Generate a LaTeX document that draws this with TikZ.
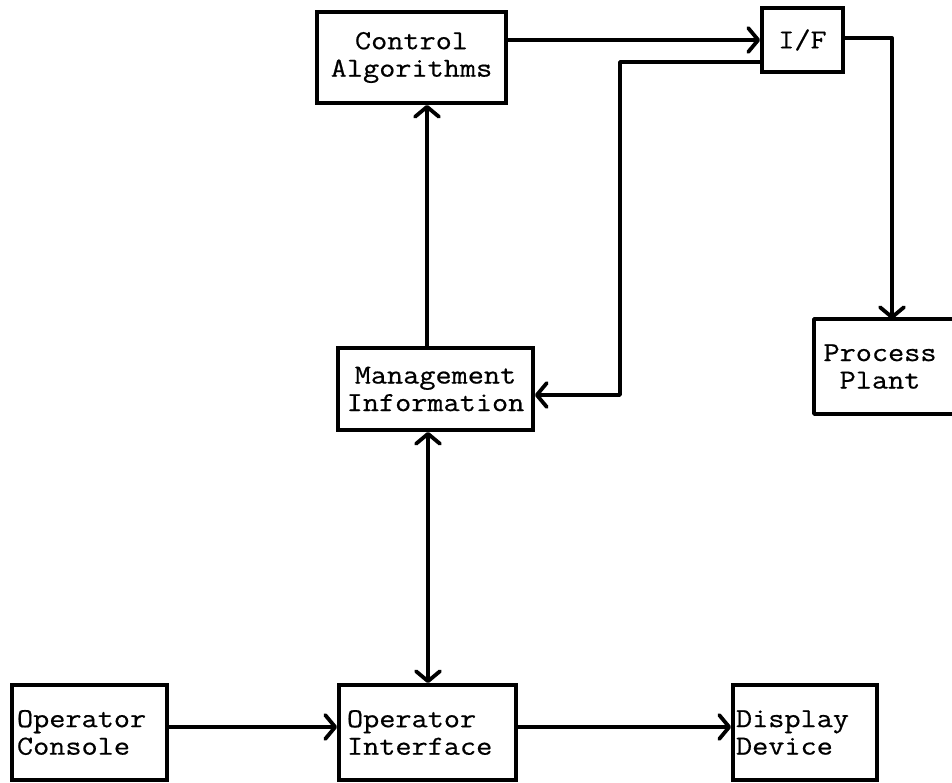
\documentclass[tikz,border=0pt]{standalone}
\usepackage{fontspec}
\setmainfont[FakeStretch=1.14,FakeBold=0.6]{Latin Modern Mono}
\usetikzlibrary{arrows.meta,calc}
\tikzset{
  blk/.style={draw=black, line width=3.8pt, inner sep=0pt, font=\fontsize{27.5}{27.5}\selectfont},
  cbox/.style={blk, align=center},
  lbox/.style={blk, align=left},
  conn/.style={line width=3.8pt, line cap=round, line join=round},
  arr/.style={conn, -{Straight Barb[length=10pt,width=24pt,round]}},
  darr/.style={conn, {Straight Barb[length=10pt,width=24pt,round]}-{Straight Barb[length=10pt,width=24pt,round]}}
}
\begin{document}
\begin{tikzpicture}[x=1pt,y=-1pt]
\useasboundingbox[fill=white] (0,0) rectangle (952,782);
\coordinate (redge) at (952,0);
% boxes
\node[cbox, minimum width=189pt, minimum height=91pt] (CA) at (411.5,57.5) {Control\\Algorithms};
\node[cbox, minimum width=81pt, minimum height=64pt] (IF) at (802.5,40) {I/F};
\node[cbox, minimum width=195pt, minimum height=82pt] (MI) at (435.5,389) {Management\\Information};
\node[cbox, draw=none, minimum width=128pt, minimum height=91pt] (PP) at (880,366.5) {Process\\Plant};
\draw[conn] (PP.north -| redge) -- (PP.north west) -- (PP.south west) -- (PP.south -| redge);
\node[lbox, text width=145pt, inner xsep=5pt, minimum height=95pt] (OC) at (89.5,732.5) {Operator\\Console};
\node[lbox, text width=161pt, inner xsep=8pt, minimum height=95pt] (OI) at (427.5,732.5) {Operator\\Interface};
\node[lbox, text width=138pt, inner xsep=3pt, minimum height=95pt] (DD) at (805,732.5) {Display\\Device};
% connectors
\draw[arr] ([yshift=17.5pt]CA.east) -- ([yshift=17.5pt]CA.east -| IF.west);
\coordinate (bend) at (620,395);
\draw[arr] ([yshift=-22pt]IF.west) -| (bend) -- (bend -| MI.east);
\draw[arr] ([yshift=2pt]IF.east) -| ([xshift=12pt]PP.north);
\draw[arr] ([xshift=-8.5pt]MI.north) -- ([xshift=-8.5pt]MI.north |- CA.south);
\draw[darr] ([xshift=-7.5pt]MI.south) -- ([xshift=-7.5pt]MI.south |- OI.north);
\draw[arr] ([yshift=5.5pt]OC.east) -- ([yshift=5.5pt]OC.east -| OI.west);
\draw[arr] ([yshift=5.5pt]OI.east) -- ([yshift=5.5pt]OI.east -| DD.west);
\end{tikzpicture}
\end{document}
